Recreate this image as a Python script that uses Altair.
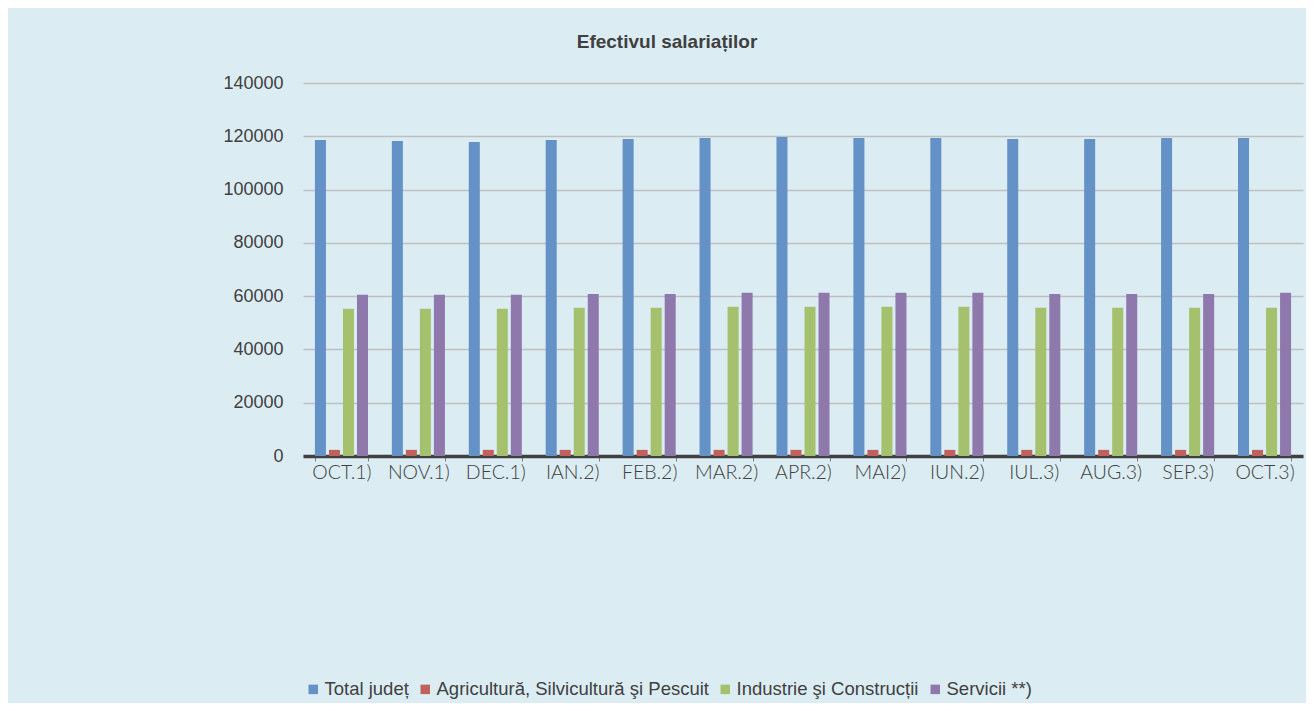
import altair as alt
import pandas as pd

months = ["OCT.1)", "NOV.1)", "DEC.1)", "IAN.2)", "FEB.2)", "MAR.2)", "APR.2)",
          "MAI2)", "IUN.2)", "IUL.3)", "AUG.3)", "SEP.3)", "OCT.3)"]
series_names = ["Total județ", "Agricultură, Silvicultură şi Pescuit",
                "Industrie şi Construcții", "Servicii **)"]
total = [118600, 118250, 117850, 118600, 118950, 119350, 119700,
         119350, 119350, 118950, 118950, 119350, 119350]
agri = [2300, 2300, 2300, 2300, 2300, 2300, 2300,
        2300, 2300, 2300, 2300, 2300, 2300]
industrie = [55250, 55250, 55250, 55600, 55600, 56000, 56000,
             56000, 56000, 55600, 55600, 55600, 55600]
servicii = [60500, 60500, 60500, 60850, 60850, 61250, 61250,
            61250, 61250, 60850, 60850, 60850, 61250]
colors = ["#6491c6", "#c0615e", "#a5c16e", "#8f79ac"]
y_ticks = [0, 20000, 40000, 60000, 80000, 100000, 120000, 140000]

rows = []
for name, vals in zip(series_names, [total, agri, industrie, servicii]):
    for m, v in zip(months, vals):
        rows.append({"luna": m, "serie": name, "valoare": v})
df = pd.DataFrame(rows)

chart = alt.Chart(df).mark_bar().encode(
    x=alt.X("luna:N", sort=months,
            scale=alt.Scale(paddingInner=0.31, paddingOuter=0.155),
            axis=alt.Axis(title=None, labelAngle=0, labelFont="Lato", labelFontSize=19.5,
                          labelFontWeight=300,
                          labelColor="#404040", domainColor="#404040", domainWidth=3.5,
                          tickColor="#808080", tickSize=5, tickBand="extent",
                          labelPadding=2, grid=False)),
    xOffset=alt.XOffset("serie:N", sort=series_names,
                        scale=alt.Scale(paddingInner=0.214, paddingOuter=0)),
    y=alt.Y("valoare:Q", scale=alt.Scale(domain=[0, 140000], nice=False),
            axis=alt.Axis(title=None, values=y_ticks, format="d", labelFont="Liberation Sans",
                          labelFontSize=18, labelColor="#404040", labelPadding=20,
                          domain=False, ticks=False, gridColor="#bfbfbf", gridWidth=1.5)),
    color=alt.Color("serie:N", sort=series_names,
                    scale=alt.Scale(domain=series_names, range=colors),
                    legend=alt.Legend(title=None, orient="none", legendX=1, legendY=597,
                                      direction="horizontal", labelFont="Liberation Sans",
                                      labelFontSize=18.5, labelColor="#404040", labelLimit=0,
                                      symbolType="square", symbolSize=90, symbolStrokeWidth=0,
                                      labelOffset=2, columnPadding=7, padding=0)),
).properties(
    width=1000,
    height=373,
    title=alt.TitleParams("Efectivul salariaților", font="Liberation Sans", fontSize=19,
                          fontWeight="bold", color="#404040", anchor="middle",
                          dx=-136, offset=22),
    autosize=alt.AutoSizeParams(type="none"),
    padding={"left": 295, "top": 75, "right": 3, "bottom": 247},
).configure(
    background="#dbedf3",
).configure_view(
    stroke=None,
)

chart.save("out.html", embed_options={"renderer": "svg", "actions": False})
